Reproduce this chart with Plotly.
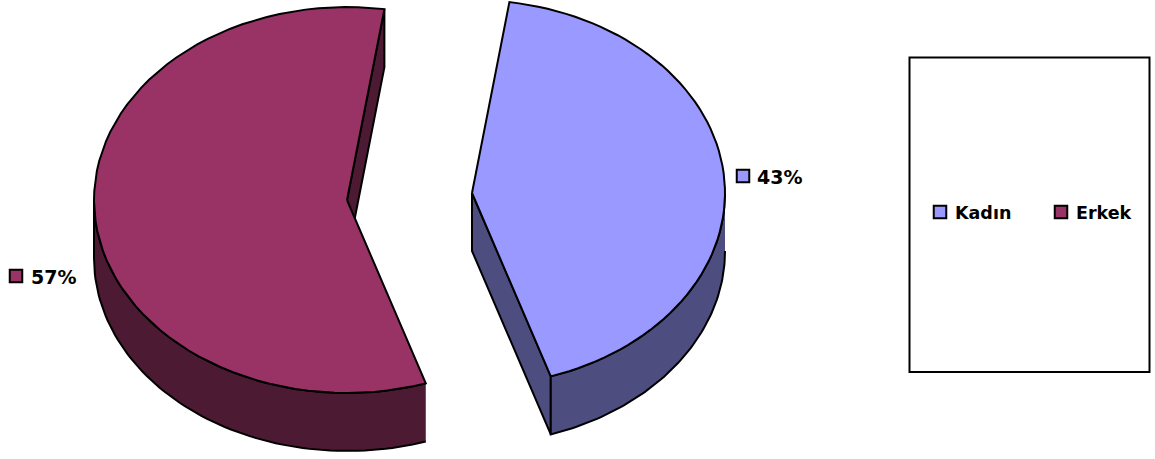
import numpy as np
import plotly.graph_objects as go

categories = ["Kadın", "Erkek"]
shares = [42.6, 57.4]
percent_labels = ["43%", "57%"]
top_colors = ["#9999FF", "#993366"]
side_colors = ["#4D4D80", "#4D1A33"]
start_angle = 8.5
centers = [(472, 193), (347, 200)]
rx, ry, depth = 253, 193, 58
FONT = "DejaVu Sans"

fig = go.Figure()

def arc(c, a0, a1, n=70):
    t = np.radians(np.linspace(a0, a1, n))
    return c[0] + rx * np.sin(t), c[1] - ry * np.cos(t)

def poly(x, y, color):
    fig.add_trace(go.Scatter(x=list(x), y=list(y), mode="lines", fill="toself", fillcolor=color,
                             line=dict(color="black", width=2), hoverinfo="skip", showlegend=False))

angle = start_angle
spans = []
for s in shares:
    spans.append((angle, angle + 360 * s / sum(shares)))
    angle = spans[-1][1]

for i, (a0, a1) in enumerate(spans):
    c = centers[i]
    # inner cut wall (the edge at the slice's end angle faces the viewer for both slices)
    ex, ey = arc(c, a1, a1, 1)
    poly([c[0], ex[0], ex[0], c[0], c[0]], [c[1], ey[0], ey[0] + depth, c[1] + depth, c[1]], side_colors[i])
    # outer rim: only the front half of the ellipse is visible
    if i == 0:
        x, y = arc(c, 90, a1)
    else:
        x, y = arc(c, a0, 270)
    poly(np.r_[x, x[::-1]], np.r_[y, y[::-1] + depth], side_colors[i])
    x, y = arc(c, a0, a1)
    poly(np.r_[c[0], x, c[0]], np.r_[c[1], y, c[1]], top_colors[i])

label_swatch = [(743, 176), (16, 276)]
label_text = [(757, 177), (31, 277)]
for i in range(2):
    fig.add_trace(go.Scatter(x=[label_swatch[i][0]], y=[label_swatch[i][1]], mode="markers",
                             marker=dict(symbol="square", size=12.5, color=top_colors[i], line=dict(color="black", width=2)),
                             hoverinfo="skip", showlegend=False))
    fig.add_annotation(x=label_text[i][0], y=label_text[i][1], text=f"<b>{percent_labels[i]}</b>", showarrow=False,
                       xanchor="left", yanchor="middle", xshift=-2, font=dict(family=FONT, size=19, color="black"))

fig.add_shape(type="rect", x0=909.5, y0=57.5, x1=1149.5, y1=372, line=dict(color="black", width=2), fillcolor="white", layer="below")
leg_swatch = [940, 1061]
leg_text = [955, 1076]
for i in range(2):
    fig.add_trace(go.Scatter(x=[leg_swatch[i]], y=[212], mode="markers",
                             marker=dict(symbol="square", size=12.5, color=top_colors[i], line=dict(color="black", width=2)),
                             hoverinfo="skip", showlegend=False))
    fig.add_annotation(x=leg_text[i], y=213, text=f"<b>{categories[i]}</b>", showarrow=False,
                       xanchor="left", yanchor="middle", xshift=-2, font=dict(family=FONT, size=17.5, color="black"))

fig.update_layout(width=1155, height=459, margin=dict(l=0, r=0, t=0, b=0), paper_bgcolor="white", plot_bgcolor="white",
                  xaxis=dict(range=[0, 1155], visible=False, fixedrange=True),
                  yaxis=dict(range=[459, 0], visible=False, fixedrange=True))
fig.write_html("out.html", config={"displayModeBar": False},
               post_script="document.body.style.margin='0';document.documentElement.style.overflow='hidden';")
